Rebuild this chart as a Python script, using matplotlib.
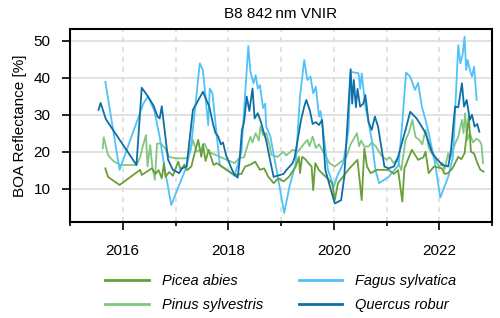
import numpy as np
import matplotlib.pyplot as plt
from matplotlib.ticker import MultipleLocator

plt.rcParams['font.family'] = ['Liberation Sans', 'DejaVu Sans']

# dates as decimal years, reflectance in %
picea_t = [2015.67, 2015.72, 2015.94, 2016.33, 2016.36, 2016.55, 2016.62, 2016.68, 2016.74, 2016.78,
           2016.81, 2016.88, 2016.95, 2017.05, 2017.10, 2017.17, 2017.22, 2017.30, 2017.37, 2017.43,
           2017.49, 2017.52, 2017.57, 2017.63, 2017.72, 2017.78, 2018.12, 2018.25, 2018.32, 2018.42,
           2018.51, 2018.60, 2018.68, 2018.76, 2018.86, 2018.95, 2019.05, 2019.15, 2019.28, 2019.34,
           2019.36, 2019.40, 2019.46, 2019.52, 2019.58, 2019.61, 2019.65, 2019.72, 2019.85, 2019.97,
           2020.02, 2020.08, 2020.20, 2020.30, 2020.45, 2020.53, 2020.58, 2020.63, 2020.70, 2020.82,
           2021.04, 2021.14, 2021.22, 2021.30, 2021.34, 2021.48, 2021.60, 2021.70, 2021.74, 2021.80,
           2021.90, 2022.05, 2022.10, 2022.17, 2022.25, 2022.36, 2022.42, 2022.48, 2022.56, 2022.60,
           2022.66, 2022.72, 2022.78, 2022.84]
picea_v = [15.5, 13.2, 11.0, 15.1, 13.7, 15.5, 14.0, 15.0, 12.8, 16.9,
           13.2, 14.5, 13.5, 17.3, 15.0, 16.5, 15.0, 16.0, 20.0, 23.2,
           18.6, 22.0, 17.5, 20.5, 16.4, 16.9, 13.7, 14.0, 16.0, 16.5,
           17.3, 15.1, 15.5, 13.2, 11.5, 12.8, 12.0, 13.2, 16.0, 18.6,
           14.2, 18.6, 18.0, 16.9, 16.0, 9.6, 16.9, 15.0, 13.2, 11.5,
           6.9, 11.5, 13.7, 15.5, 17.8, 6.9, 20.9, 16.0, 14.2, 15.1,
           15.1, 14.0, 15.0, 6.5, 15.5, 20.5, 17.8, 18.5, 20.0, 14.2,
           16.0, 15.5, 14.0, 14.2, 15.5, 18.6, 18.0, 19.6, 29.5, 20.0,
           19.5, 17.0, 15.1, 14.6]

pinus_t = [2015.62, 2015.64, 2015.72, 2015.82, 2015.96, 2016.26, 2016.33, 2016.38, 2016.44, 2016.47,
           2016.52, 2016.56, 2016.61, 2016.65, 2016.72, 2016.80, 2016.88, 2017.00, 2017.21, 2017.28,
           2017.33, 2017.40, 2017.48, 2017.55, 2017.62, 2017.70, 2018.12, 2018.20, 2018.30, 2018.36,
           2018.42, 2018.46, 2018.52, 2018.58, 2018.61, 2018.66, 2018.72, 2018.78, 2018.82, 2018.94,
           2019.04, 2019.10, 2019.22, 2019.32, 2019.44, 2019.50, 2019.54, 2019.60, 2019.66, 2019.72,
           2019.78, 2019.92, 2020.02, 2020.14, 2020.24, 2020.32, 2020.44, 2020.48, 2020.52, 2020.58,
           2020.66, 2020.72, 2020.80, 2020.90, 2021.00, 2021.06, 2021.14, 2021.20, 2021.28, 2021.36,
           2021.42, 2021.49, 2021.55, 2021.62, 2021.68, 2021.74, 2021.80, 2021.90, 2022.00, 2022.06,
           2022.10, 2022.17, 2022.20, 2022.30, 2022.36, 2022.43, 2022.46, 2022.49, 2022.53, 2022.58,
           2022.64, 2022.70, 2022.76, 2022.80, 2022.83]
pinus_v = [20.9, 23.9, 19.1, 17.5, 16.4, 16.4, 18.5, 21.5, 24.5, 16.0,
           21.8, 16.0, 12.4, 22.2, 22.2, 21.0, 18.6, 18.2, 18.2, 20.0,
           23.2, 20.0, 20.5, 22.2, 20.0, 19.5, 16.9, 18.2, 18.5, 21.4,
           24.0, 22.5, 25.0, 23.0, 26.8, 24.5, 25.0, 22.0, 19.1, 18.6,
           20.0, 19.0, 20.5, 20.0, 22.2, 23.2, 21.5, 24.1, 21.0, 22.0,
           20.5, 16.9, 16.0, 17.3, 18.6, 22.0, 25.0, 21.5, 23.0, 21.4,
           21.4, 22.5, 21.4, 19.0, 17.8, 18.5, 16.9, 18.0, 15.0, 23.2,
           25.0, 28.6, 24.0, 23.2, 22.0, 25.9, 21.0, 18.5, 16.0, 17.0,
           15.1, 19.6, 18.0, 22.2, 24.0, 28.6, 25.0, 30.4, 23.2, 25.0,
           22.5, 23.5, 23.0, 22.0, 16.9]

fagus_t = [2015.67, 2015.94, 2016.39, 2016.48, 2016.60, 2016.70, 2016.80, 2016.92, 2017.21, 2017.30,
           2017.46, 2017.52, 2017.62, 2017.65, 2017.70, 2017.84, 2018.12, 2018.25, 2018.38, 2018.42,
           2018.48, 2018.52, 2018.56, 2018.60, 2018.66, 2018.70, 2018.72, 2018.80, 2018.94, 2019.06,
           2019.16, 2019.28, 2019.36, 2019.44, 2019.50, 2019.56, 2019.61, 2019.66, 2019.72, 2019.75,
           2019.82, 2019.89, 2020.00, 2020.06, 2020.18, 2020.28, 2020.32, 2020.47, 2020.50, 2020.53,
           2020.60, 2020.66, 2020.72, 2020.79, 2020.86, 2021.04, 2021.23, 2021.30, 2021.37, 2021.45,
           2021.54, 2021.60, 2021.67, 2021.74, 2021.80, 2021.92, 2022.02, 2022.17, 2022.26, 2022.36,
           2022.40, 2022.44, 2022.48, 2022.51, 2022.54, 2022.58, 2022.62, 2022.66, 2022.71]
fagus_v = [38.9, 15.1, 33.0, 35.0, 31.0, 24.0, 15.0, 5.6, 16.0, 22.0,
           43.9, 42.1, 27.2, 37.1, 35.8, 16.4, 13.5, 20.0, 48.6, 41.6,
           38.5, 40.7, 37.1, 38.0, 31.8, 33.0, 26.8, 24.0, 13.2, 3.4,
           10.5, 16.9, 34.9, 44.8, 39.4, 40.3, 35.8, 37.6, 29.5, 31.0,
           23.2, 15.1, 10.5, 13.2, 16.9, 25.9, 41.6, 41.2, 37.0, 41.2,
           32.2, 28.0, 23.2, 15.1, 11.5, 13.2, 16.4, 28.0, 41.4, 40.3,
           36.7, 38.6, 32.2, 28.6, 25.0, 16.9, 7.6, 13.2, 18.6, 48.8,
           43.9, 46.0, 51.1, 42.1, 44.8, 42.1, 40.3, 43.0, 34.0]

quercus_t = [2015.54, 2015.58, 2015.68, 2016.26, 2016.36, 2016.45, 2016.58, 2016.66, 2016.70, 2016.74,
             2016.86, 2016.95, 2017.07, 2017.12, 2017.21, 2017.33, 2017.52, 2017.64, 2017.72, 2017.76,
             2017.81, 2017.86, 2017.90, 2017.96, 2018.06, 2018.12, 2018.18, 2018.21, 2018.26, 2018.30,
             2018.35, 2018.40, 2018.46, 2018.50, 2018.56, 2018.62, 2018.66, 2018.72, 2018.78, 2018.86,
             2019.05, 2019.10, 2019.22, 2019.26, 2019.38, 2019.44, 2019.48, 2019.55, 2019.60, 2019.66,
             2019.72, 2019.78, 2019.84, 2019.91, 2020.02, 2020.14, 2020.20, 2020.32, 2020.35, 2020.38,
             2020.42, 2020.45, 2020.50, 2020.56, 2020.60, 2020.66, 2020.72, 2020.78, 2020.84, 2020.96,
             2021.04, 2021.14, 2021.22, 2021.36, 2021.45, 2021.57, 2021.66, 2021.74, 2021.86, 2021.92,
             2022.06, 2022.17, 2022.22, 2022.30, 2022.36, 2022.43, 2022.47, 2022.52, 2022.58, 2022.62,
             2022.67, 2022.72, 2022.76]
quercus_v = [31.3, 33.2, 28.8, 16.4, 37.3, 35.5, 32.6, 29.5, 29.0, 32.3,
             17.8, 15.1, 14.2, 15.5, 16.0, 31.3, 36.2, 32.2, 27.0, 25.0,
             24.1, 22.0, 22.5, 19.0, 15.5, 13.7, 13.0, 16.9, 25.9, 28.0,
             34.9, 31.0, 37.1, 29.0, 30.4, 28.0, 25.9, 23.0, 18.6, 13.2,
             14.0, 15.0, 16.9, 18.5, 28.6, 32.2, 34.0, 31.0, 27.5, 28.0,
             27.2, 28.6, 15.1, 11.5, 6.0, 6.9, 13.2, 42.3, 33.0, 39.4,
             32.0, 37.0, 32.2, 33.0, 35.3, 28.0, 25.9, 29.5, 26.8, 16.0,
             15.5, 16.0, 18.6, 25.9, 30.8, 29.0, 27.0, 25.0, 20.0, 18.6,
             16.4, 16.0, 20.0, 32.2, 32.0, 38.5, 32.2, 34.0, 28.6, 30.0,
             26.8, 27.5, 25.4]

fig = plt.figure(figsize=(5, 3.18), dpi=100)
ax = fig.add_axes([0.14, 0.302, 0.844, 0.607])

ax.plot(picea_t, picea_v, color='#689f38', lw=1.3, label='Picea abies', zorder=3)
ax.plot(pinus_t, pinus_v, color='#81c784', lw=1.3, label='Pinus sylvestris', zorder=2)
ax.plot(fagus_t, fagus_v, color='#4fc3f7', lw=1.3, label='Fagus sylvatica', zorder=2)
ax.plot(quercus_t, quercus_v, color='#0e6fa8', lw=1.3, label='Quercus robur', zorder=4)

ax.set_xlim(2015.0, 2023.0)
ax.set_ylim(1, 53.2)
ax.xaxis.set_major_locator(MultipleLocator(2))
ax.xaxis.set_minor_locator(MultipleLocator(1))
ax.yaxis.set_major_locator(MultipleLocator(10))
ax.xaxis.set_major_formatter(plt.FuncFormatter(lambda v, p: '%d' % v))

ax.grid(axis='y', color='#dddddd', lw=1.2, zorder=0)
ax.grid(axis='x', which='both', color='#dddddd', lw=1.2, ls=(0, (3, 3)), zorder=0)
ax.set_axisbelow(True)

for s in ax.spines.values():
    s.set_linewidth(1.5)
ax.tick_params(which='major', length=6, width=1.2, labelsize=11, pad=8)
ax.tick_params(which='minor', length=3, width=1.2)
ax.tick_params(axis='x', pad=10)

ax.set_ylabel('BOA Reflectance [%]', fontsize=11, labelpad=5)
ax.set_title('B8 842\u2009nm VNIR', fontsize=11, pad=8)

leg = ax.legend(loc='upper center', bbox_to_anchor=(0.5, -0.2), ncol=2, frameon=False,
                prop={'style': 'italic', 'size': 10.5}, handlelength=3, columnspacing=2.4,
                labelspacing=0.7, handletextpad=0.9)
for l in leg.get_lines():
    l.set_linewidth(2)

fig.savefig('out.png', dpi=100)
